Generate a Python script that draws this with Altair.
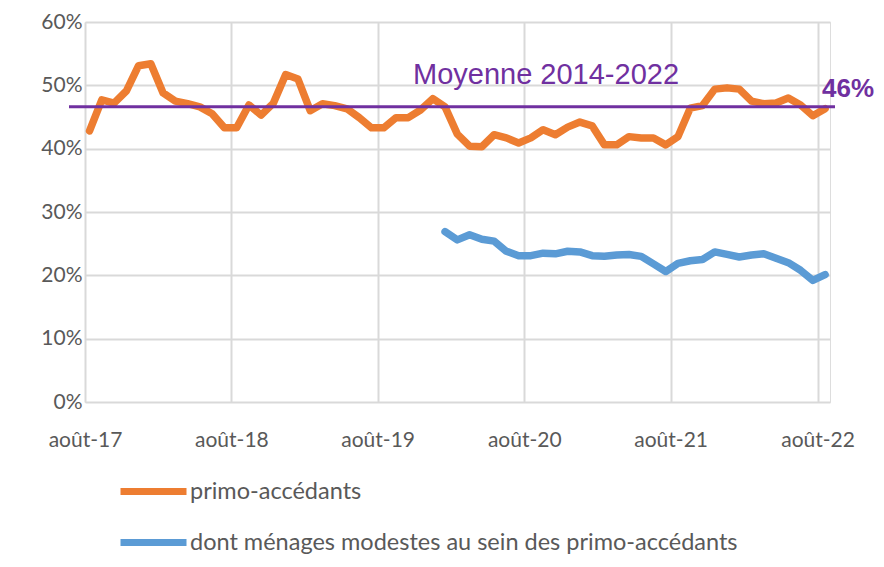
import altair as alt
import pandas as pd

# ---- data ----
tick_labels = ["août-17", "août-18", "août-19", "août-20", "août-21", "août-22"]
tick_pos = [-0.37, 11.57, 23.5, 35.46, 47.4, 59.39]   # month index of the yearly gridlines

series_names = ["primo-accédants", "dont ménages modestes au sein des primo-accédants"]

primo = [42.8, 47.7, 47.2, 49.1, 53.1, 53.4, 48.8, 47.5, 47.1, 46.6,
         45.5, 43.3, 43.3, 46.9, 45.3, 47.2, 51.7, 51.0, 46.0, 47.1,
         46.8, 46.3, 44.9, 43.3, 43.3, 44.9, 44.9, 46.1, 47.9, 46.6,
         42.3, 40.4, 40.3, 42.2, 41.7, 40.9, 41.7, 43.0, 42.2, 43.4,
         44.2, 43.6, 40.6, 40.6, 41.9, 41.7, 41.7, 40.6, 41.9, 46.4,
         46.8, 49.4, 49.6, 49.4, 47.5, 47.1, 47.2, 48.0, 46.9, 45.2, 46.3]
modestes_start = 29  # janv-20
modestes = [26.9, 25.6, 26.4, 25.7, 25.4, 23.8, 23.1, 23.1, 23.5, 23.4,
            23.8, 23.7, 23.1, 23.0, 23.2, 23.3, 23.0, 21.8, 20.6, 21.9,
            22.3, 22.5, 23.7, 23.3, 22.9, 23.2, 23.4, 22.7, 22.0, 20.8, 19.2, 20.1]

moyenne = 46.6
moyenne_label = "Moyenne 2014-2022"
moyenne_value_label = "46%"

# ---- build table ----
rows = [{"m": i, "v": v, "s": series_names[0]} for i, v in enumerate(primo)]
rows += [{"m": modestes_start + i, "v": v, "s": series_names[1]} for i, v in enumerate(modestes)]
df = pd.DataFrame(rows)

label_expr = "[" + ",".join("'%s'" % t for t in tick_labels) + "][round((datum.value + 0.37) / 11.95)]"

grey = "#595959"
purple = "#7030A0"
font = "Lato"

x_scale = alt.Scale(domain=[-0.37, 60.4], nice=False, zero=False)
y_scale = alt.Scale(domain=[0, 60], nice=False)

lines = alt.Chart(df).mark_line(strokeWidth=7.5, strokeCap="round", strokeJoin="round").encode(
    x=alt.X("m:Q", scale=x_scale,
            axis=alt.Axis(values=tick_pos, labelExpr=label_expr, title=None, grid=True,
                          ticks=False, domain=False, labelPadding=27, labelFontSize=21,
                          labelFlush=False, labelOverlap=False,
                          labelColor=grey, labelFont=font, gridColor="#D9D9D9", gridWidth=2)),
    y=alt.Y("v:Q", scale=y_scale,
            axis=alt.Axis(values=[0, 10, 20, 30, 40, 50, 60], labelExpr="datum.value + '%'",
                          title=None, grid=True, ticks=False, domain=False, labelPadding=3,
                          labelFontSize=21, labelColor=grey, labelFont=font,
                          gridColor="#D9D9D9", gridWidth=2)),
    color=alt.Color("s:N", scale=alt.Scale(domain=series_names, range=["#ED7D31", "#5B9BD5"]),
                    legend=alt.Legend(title=None, orient="none", legendX=32, legendY=433,
                                      direction="vertical", symbolType="stroke",
                                      symbolSize=4356, symbolStrokeWidth=7,
                                      labelFontSize=23.5, labelFont=font, labelColor=grey,
                                      labelOffset=0, rowPadding=-21, labelLimit=800)),
    detail="s:N",
)

avg = pd.DataFrame({"v": [moyenne], "t": [moyenne_label], "t2": [moyenne_value_label]})

rule = alt.Chart(avg).mark_rule(color=purple, strokeWidth=3).encode(
    y=alt.Y("v:Q", scale=y_scale), x=alt.value(-16), x2=alt.value(750))

txt = alt.Chart(avg).mark_text(color=purple, font="Liberation Sans", fontSize=29,
                               align="center", baseline="alphabetic", dy=-23).encode(
    y=alt.Y("v:Q", scale=y_scale), x=alt.value(461), text="t:N")

txt2 = alt.Chart(avg).mark_text(color=purple, font="Liberation Sans", fontSize=26,
                                fontWeight="bold", align="left", baseline="alphabetic",
                                dy=-10).encode(
    y=alt.Y("v:Q", scale=y_scale), x=alt.value(737), text="t2:N")

chart = alt.layer(lines, rule, txt, txt2).properties(
    width=745, height=380,
    autosize=alt.AutoSizeParams(type="none"),
    padding={"left": 77, "top": 14, "right": 46, "bottom": 157},
).configure_view(stroke=None).configure(background="white")

chart.save("out.html", embed_options={"renderer": "svg", "actions": False})
